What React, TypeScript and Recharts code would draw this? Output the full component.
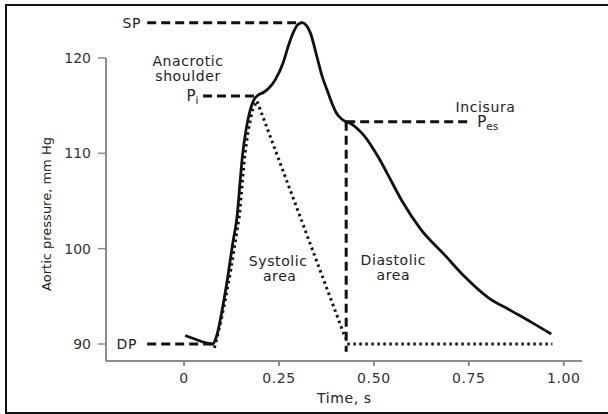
import React from 'react';
import { LineChart, Line, XAxis, YAxis, ReferenceLine, ReferenceDot } from 'recharts';

// aortic pressure curve (time s, mm Hg)
const pressureT = [0.003, 0.03, 0.055, 0.075, 0.087, 0.1, 0.115, 0.128, 0.14, 0.148, 0.154, 0.163, 0.174, 0.184, 0.195, 0.21, 0.225, 0.24, 0.261, 0.275, 0.287, 0.3, 0.311, 0.322, 0.333, 0.35, 0.365, 0.377, 0.39, 0.4, 0.415, 0.427, 0.44, 0.456, 0.473, 0.493, 0.513, 0.535, 0.574, 0.624, 0.685, 0.738, 0.8, 0.861, 0.914, 0.967];
const pressureP = [90.9, 90.5, 90.15, 90.0, 91.0, 93.5, 97.0, 100.5, 103.5, 107.2, 109.8, 112.4, 114.5, 115.6, 116.1, 116.4, 116.9, 117.7, 119.5, 121.3, 122.6, 123.5, 123.7, 123.4, 122.6, 120.1, 117.9, 116.6, 115.2, 114.3, 113.6, 113.3, 113.1, 112.6, 111.9, 110.8, 109.5, 107.9, 105.0, 102.0, 99.4, 97.1, 94.9, 93.5, 92.3, 91.05];

// systolic area triangle (dotted)
const systolicT = [0.08, 0.095, 0.108, 0.122, 0.134, 0.146, 0.154, 0.16, 0.169, 0.18, 0.192, 0.425];
const systolicP = [89.6, 92.0, 94.5, 97.5, 100.5, 103.5, 107.2, 109.8, 112.4, 114.5, 115.5, 90.6];

// diastolic baseline (dotted)
const baseT = [0.43, 0.97];
const baseP = [90, 90];

const xTicks = [0, 0.25, 0.5, 0.75, 1];
const xTickLabels = ['0', '0.25', '0.50', '0.75', '1.00'];
const yTicks = [90, 100, 110, 120];

// dashed guide lines: [t1, p1, t2, p2]
const guides = [
  [-0.097, 123.7, 0.311, 123.7],
  [0.05, 116.0, 0.186, 116.0],
  [0.427, 113.3, 0.75, 113.3],
  [-0.097, 90.0, 0.076, 90.0],
  [0.427, 113.3, 0.427, 89.2],
];

// annotations
const noteText = ['SP', 'DP', 'Anacrotic', 'shoulder', 'Incisura', 'Systolic', 'area', 'Diastolic', 'area'];
const noteT = [-0.113, -0.124, 0.0105, 0.0105, 0.794, 0.248, 0.252, 0.551, 0.551];
const noteP = [123.7, 90.0, 119.7, 118.1, 114.9, 98.7, 97.1, 98.8, 97.2];
const noteAnchor = ['end', 'end', 'middle', 'middle', 'middle', 'middle', 'middle', 'middle', 'middle'];

// subscripted pressure labels
const subBase = ['P', 'P'];
const subText = ['i', 'es'];
const subT = [0.038, 0.772];
const subP = [116.0, 113.3];
const subAnchor = ['end', 'start'];

const X_MIN = -0.2055;
const X_MAX = 1.048;
const Y_MIN = 88.22;
const Y_MAX = 124.5;

const FONT = '"DejaVu Sans", sans-serif';
const AXIS = '#8c8c8c';
const INK = '#111';

const toRows = (t: number[], p: number[]) => t.map((v, i) => ({ t: v, p: p[i] }));

const pressureData = toRows(pressureT, pressureP);
const systolicData = toRows(systolicT, systolicP);
const baseData = toRows(baseT, baseP);

// rotated y-axis title, centred on the drawn part of the axis
const YTitle = (props: any) => {
  const vb = props.viewBox;
  const cx = vb.x;
  const cy = vb.y + vb.height / 2 + 26;
  return (
    <text
      x={cx}
      y={cy}
      transform={`rotate(-90, ${cx}, ${cy})`}
      textAnchor="middle"
      dominantBaseline="central"
      fontFamily={FONT}
      fontSize={13}
      fill="#222"
    >
      Aortic pressure, mm Hg
    </text>
  );
};

export default function App() {
  return (
    <div style={{ position: 'absolute', left: 0, top: 0, width: 608, height: 414, overflow: 'hidden', background: '#fff' }}>
      <div
        style={{
          position: 'absolute',
          left: 5,
          top: 4,
          width: 640,
          height: 409.5,
          border: '2.5px solid #111',
          boxSizing: 'border-box',
        }}
      />
      <div style={{ position: 'absolute', left: 0, top: 0 }}>
        <LineChart width={608} height={414} margin={{ top: 15, right: 26, bottom: 23, left: 46 }}>
          <XAxis
            type="number"
            dataKey="t"
            domain={[X_MIN, X_MAX]}
            allowDataOverflow
            ticks={xTicks}
            tickFormatter={(v: number) => xTickLabels[xTicks.indexOf(v)]}
            stroke={AXIS}
            strokeWidth={2}
            tickSize={5}
            tickMargin={7}
            height={30}
            tick={{ fill: '#333', fontFamily: FONT, fontSize: 14, letterSpacing: 0.6 }}
          />
          <YAxis
            type="number"
            dataKey="p"
            domain={[Y_MIN, Y_MAX]}
            allowDataOverflow
            ticks={yTicks}
            axisLine={false}
            stroke={AXIS}
            strokeWidth={1.5}
            tickSize={8}
            tickMargin={7}
            width={60}
            tick={{ fill: '#333', fontFamily: FONT, fontSize: 14 }}
            label={{ content: YTitle }}
          />
          {/* y axis line only reaches the 120 tick */}
          <ReferenceLine
            segment={[{ x: X_MIN, y: Y_MIN }, { x: X_MIN, y: 120 }]}
            stroke={AXIS}
            strokeWidth={2}
          />
          {guides.map((g, i) => (
            <ReferenceLine
              key={`g-${i}`}
              segment={[{ x: g[0], y: g[1] }, { x: g[2], y: g[3] }]}
              stroke={INK}
              strokeWidth={3}
              strokeDasharray="9 5"
            />
          ))}
          <Line
            data={systolicData}
            dataKey="p"
            type="linear"
            stroke={INK}
            strokeWidth={3}
            strokeDasharray="2.5 3.5"
            dot={false}
            isAnimationActive={false}
          />
          <Line
            data={baseData}
            dataKey="p"
            type="linear"
            stroke={INK}
            strokeWidth={3}
            strokeDasharray="2.5 3.5"
            dot={false}
            isAnimationActive={false}
          />
          <Line
            data={pressureData}
            dataKey="p"
            type="monotone"
            stroke={INK}
            strokeWidth={2.8}
            dot={false}
            isAnimationActive={false}
          />
          {noteText.map((txt, i) => (
            <ReferenceDot
              key={`n-${i}`}
              x={noteT[i]}
              y={noteP[i]}
              r={1}
              fill="none"
              stroke="none"
              label={(props: any) => {
                const vb = props.viewBox;
                return (
                  <text
                    x={vb.x + vb.width / 2}
                    y={vb.y + vb.height / 2}
                    textAnchor={noteAnchor[i] as any}
                    dominantBaseline="central"
                    fontFamily={FONT}
                    fontSize={14}
                    letterSpacing={0.6}
                    fill="#222"
                  >
                    {txt}
                  </text>
                );
              }}
            />
          ))}
          {subBase.map((b, i) => (
            <ReferenceDot
              key={`s-${i}`}
              x={subT[i]}
              y={subP[i]}
              r={1}
              fill="none"
              stroke="none"
              label={(props: any) => {
                const vb = props.viewBox;
                return (
                  <text
                    x={vb.x + vb.width / 2}
                    y={vb.y + vb.height / 2}
                    textAnchor={subAnchor[i] as any}
                    dominantBaseline="central"
                    fontFamily={FONT}
                    fontSize={15}
                    fill="#222"
                  >
                    {b}
                    <tspan fontSize={10.5} dy={4}>
                      {subText[i]}
                    </tspan>
                  </text>
                );
              }}
            />
          ))}
        </LineChart>
      </div>
      <div
        style={{
          position: 'absolute',
          left: 317,
          top: 390,
          fontFamily: FONT,
          fontSize: 14,
          letterSpacing: 0.6,
          color: '#222',
          lineHeight: '16px',
        }}
      >
        Time, s
      </div>
    </div>
  );
}
